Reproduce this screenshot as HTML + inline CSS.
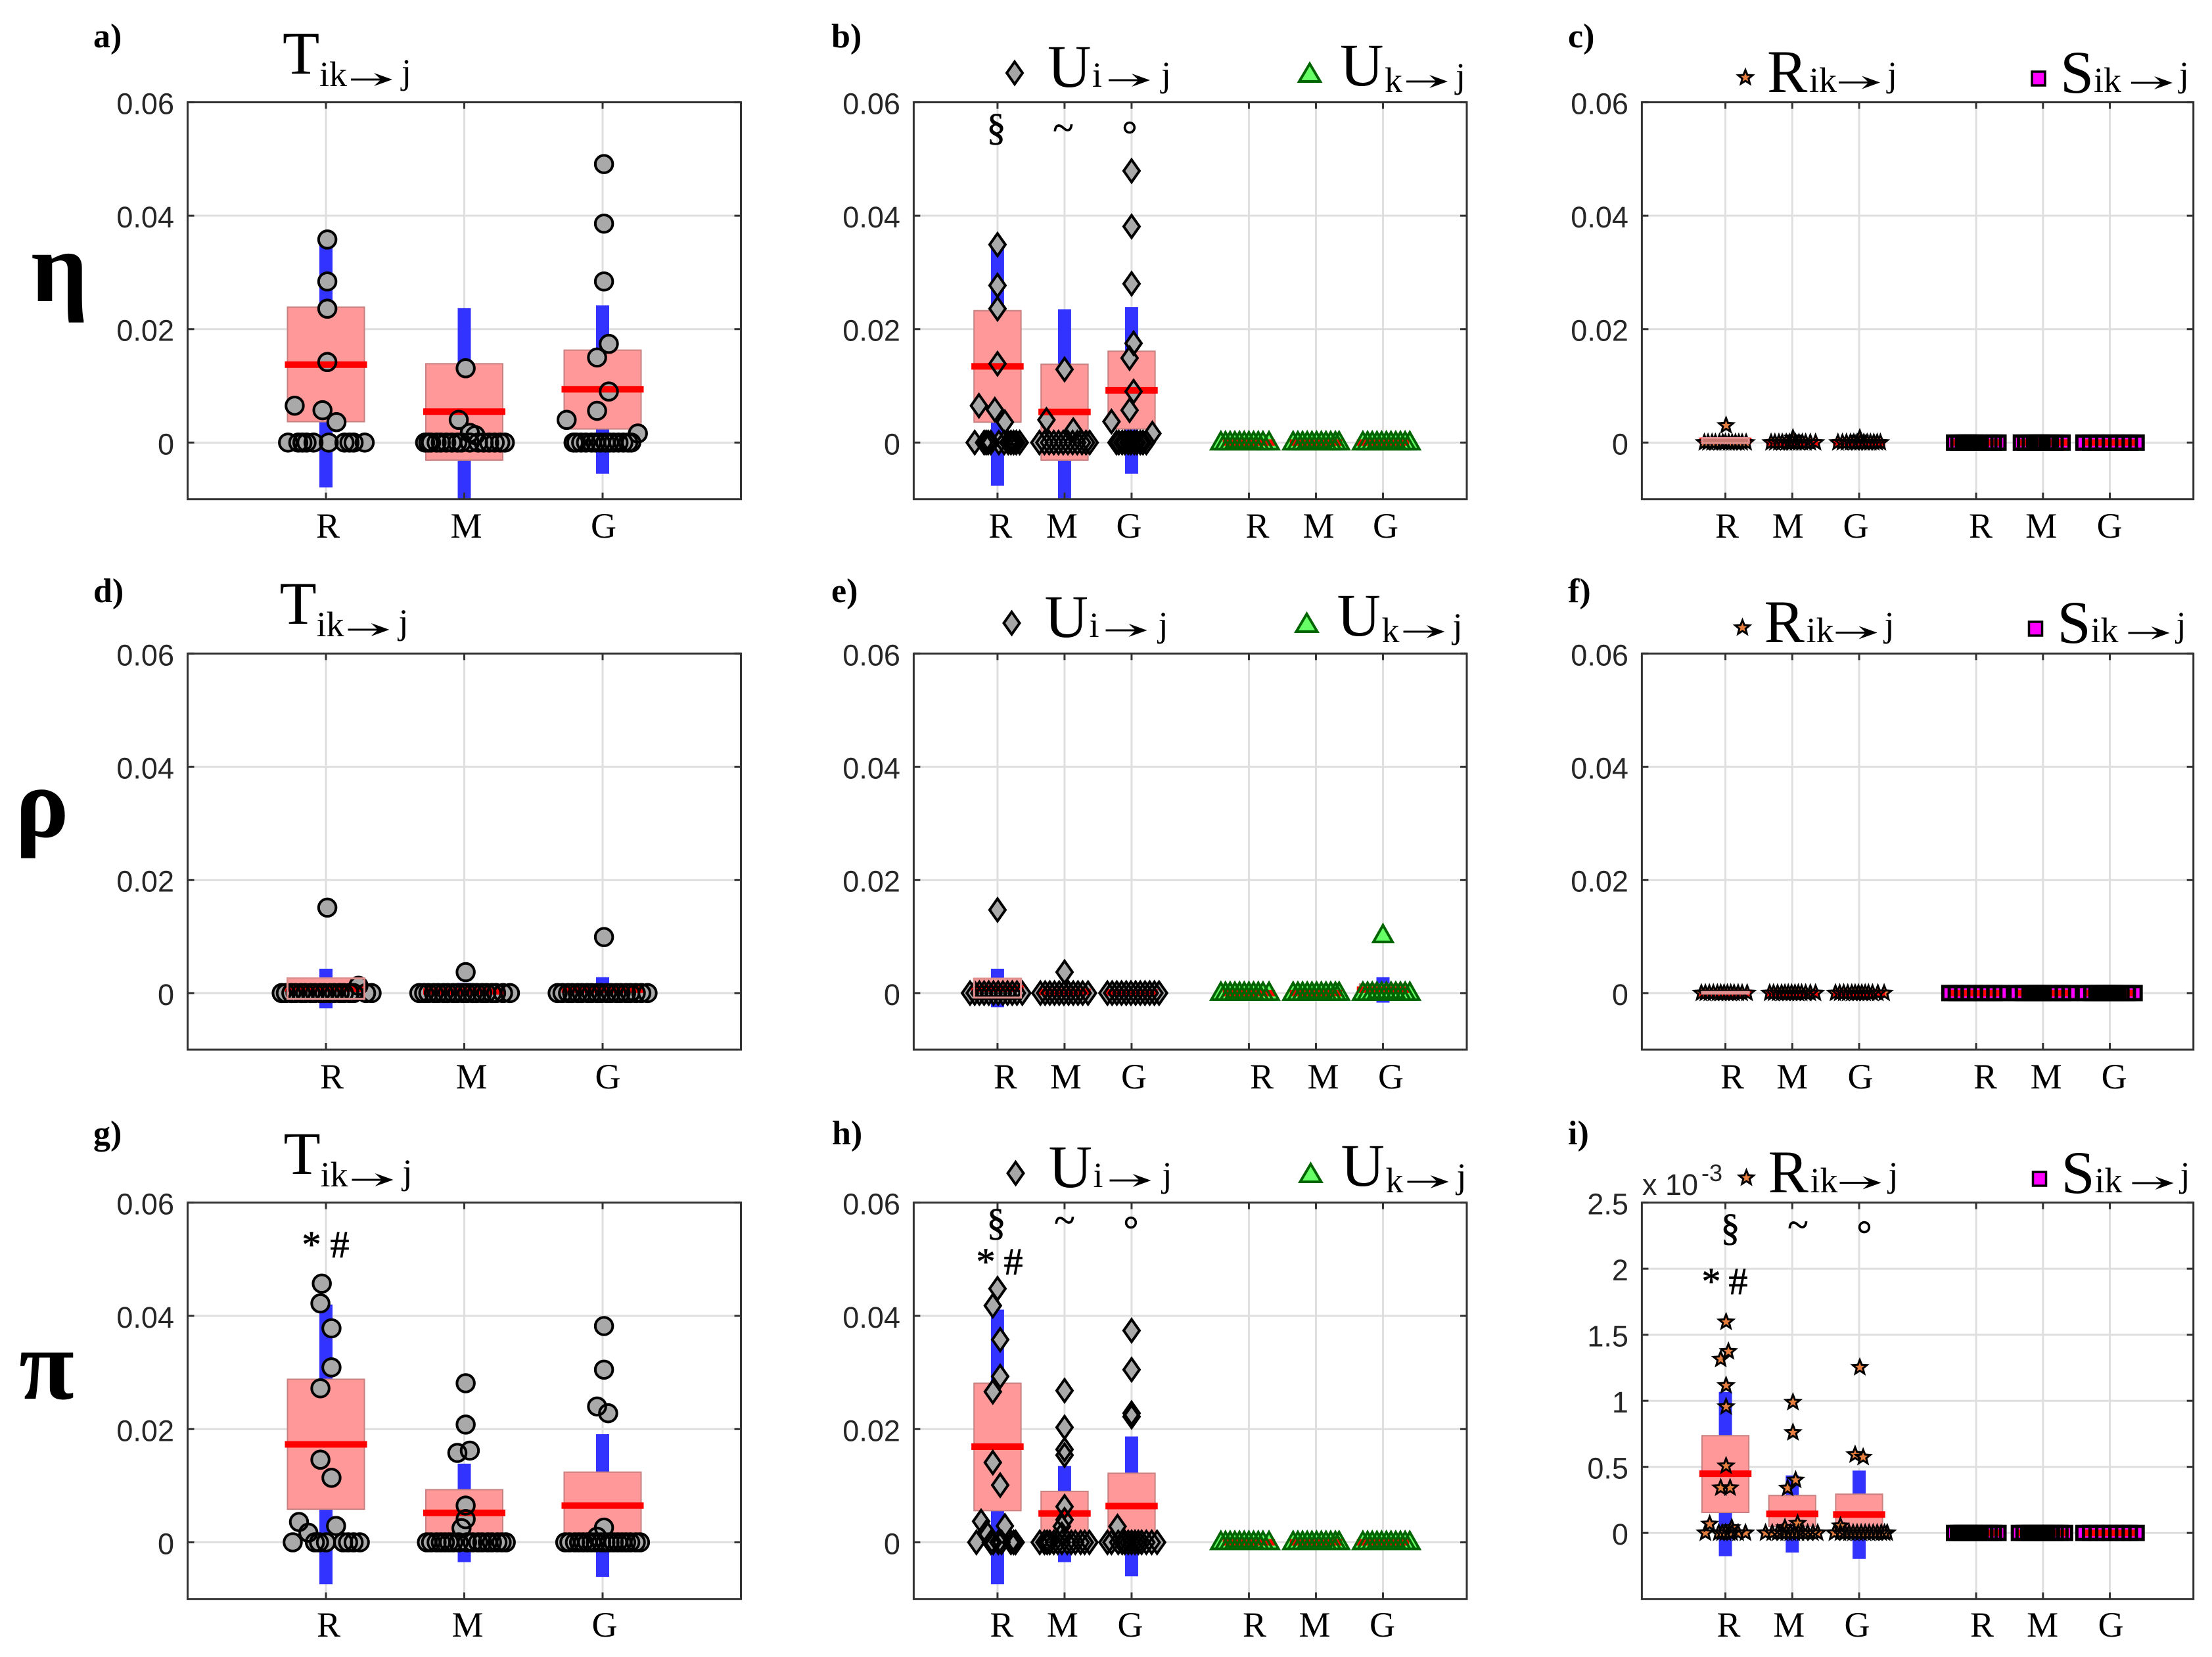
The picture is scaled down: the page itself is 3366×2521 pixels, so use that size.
<!DOCTYPE html>
<html lang="en">
<head>
<meta charset="utf-8">
<title>Information decomposition panels</title>
<style>
html,body{margin:0;padding:0;background:#fff;}
svg{display:block;}
.ser{font-family:"Liberation Serif",serif;fill:#000;}
.lab{font-family:"Liberation Serif",serif;font-weight:bold;font-size:52px;fill:#000;}
.big{font-size:92px;}
.sub{font-size:54px;}
.ann{font-size:58px;text-anchor:middle;stroke:#000;stroke-width:.8px;}
.greek{font-family:"Liberation Serif",serif;font-weight:bold;font-size:153px;fill:#000;}
.tick{font-family:"Liberation Sans",sans-serif;font-size:45px;fill:#262626;}
</style>
</head>
<body>
<svg id="fig" xmlns="http://www.w3.org/2000/svg" width="3366" height="2521" viewBox="0 0 3366 2521">
<rect width="3366" height="2521" fill="#fff"/>
<g id="plots"></g>

<text class="greek" x="47" y="458">η</text>
<text class="greek" x="23" y="1273">ρ</text>
<text class="greek" x="29" y="2128">π</text>

<text class="lab" x="142" y="72">a)</text>
<text class="lab" x="1265" y="72">b)</text>
<text class="lab" x="2386" y="72">c)</text>
<text class="lab" x="142" y="916">d)</text>
<text class="lab" x="1265" y="916">e)</text>
<text class="lab" x="2386" y="916">f)</text>
<text class="lab" x="142" y="1741">g)</text>
<text class="lab" x="1266" y="1741">h)</text>
<text class="lab" x="2386" y="1741">i)</text>

<!-- column 1 titles -->
<g>
<text class="ser big" x="430" y="112">T</text><text class="ser sub" x="486" y="131">ik</text><path d="M0 -1.5H44L35 -10L63 0L35 10L44 1.5H0Z" transform="translate(534,121)"/><text class="ser sub" x="611" y="127">j</text>
</g>
<g transform="translate(-4.5,837)">
<text class="ser big" x="430" y="112">T</text><text class="ser sub" x="486" y="131">ik</text><path d="M0 -1.5H44L35 -10L63 0L35 10L44 1.5H0Z" transform="translate(534,121)"/><text class="ser sub" x="611" y="127">j</text>
</g>
<g transform="translate(1.5,1674)">
<text class="ser big" x="430" y="112">T</text><text class="ser sub" x="486" y="131">ik</text><path d="M0 -1.5H44L35 -10L63 0L35 10L44 1.5H0Z" transform="translate(534,121)"/><text class="ser sub" x="611" y="127">j</text>
</g>

<!-- column 2 legends -->
<g>
<polygon points="1544,94 1556,111 1544,128 1532,111" fill="#a6a6a6" stroke="#000" stroke-width="4"/>
<text class="ser big" x="1594" y="132">U</text><text class="ser sub" x="1662" y="132">i</text><path d="M0 -1.5H44L35 -10L63 0L35 10L44 1.5H0Z" transform="translate(1687,122)"/><text class="ser sub" x="1767" y="131">j</text>
<polygon points="1993,97 2009,124 1977,124" fill="#66ff66" stroke="#006400" stroke-width="4"/>
<text class="ser big" x="2039" y="130">U</text><text class="ser sub" x="2107" y="140">k</text><path d="M0 -1.5H44L35 -10L63 0L35 10L44 1.5H0Z" transform="translate(2140,124)"/><text class="ser sub" x="2215" y="133">j</text>
</g>
<g transform="translate(-4.5,837)">
<polygon points="1544,94 1556,111 1544,128 1532,111" fill="#a6a6a6" stroke="#000" stroke-width="4"/>
<text class="ser big" x="1594" y="132">U</text><text class="ser sub" x="1662" y="132">i</text><path d="M0 -1.5H44L35 -10L63 0L35 10L44 1.5H0Z" transform="translate(1687,122)"/><text class="ser sub" x="1767" y="131">j</text>
<polygon points="1993,97 2009,124 1977,124" fill="#66ff66" stroke="#006400" stroke-width="4"/>
<text class="ser big" x="2039" y="130">U</text><text class="ser sub" x="2107" y="140">k</text><path d="M0 -1.5H44L35 -10L63 0L35 10L44 1.5H0Z" transform="translate(2140,124)"/><text class="ser sub" x="2215" y="133">j</text>
</g>
<g transform="translate(1.5,1674)">
<polygon points="1544,94 1556,111 1544,128 1532,111" fill="#a6a6a6" stroke="#000" stroke-width="4"/>
<text class="ser big" x="1594" y="132">U</text><text class="ser sub" x="1662" y="132">i</text><path d="M0 -1.5H44L35 -10L63 0L35 10L44 1.5H0Z" transform="translate(1687,122)"/><text class="ser sub" x="1767" y="131">j</text>
<polygon points="1993,97 2009,124 1977,124" fill="#66ff66" stroke="#006400" stroke-width="4"/>
<text class="ser big" x="2039" y="130">U</text><text class="ser sub" x="2107" y="140">k</text><path d="M0 -1.5H44L35 -10L63 0L35 10L44 1.5H0Z" transform="translate(2140,124)"/><text class="ser sub" x="2215" y="133">j</text>
</g>

<!-- column 3 legends -->
<g>
<polygon points="2656,106.5 2658.94,113.95 2666.94,114.45 2660.76,119.55 2662.76,127.3 2656,123 2649.24,127.3 2651.24,119.55 2645.06,114.45 2653.06,113.95" fill="#e57e3e" stroke="#000" stroke-width="3"/>
<text class="ser big" x="2689" y="140">R</text><text class="ser sub" x="2753" y="140">ik</text><path d="M0 -1.5H44L35 -10L63 0L35 10L44 1.5H0Z" transform="translate(2798,125.5)"/><text class="ser sub" x="2872" y="131">j</text>
<rect x="3092" y="109" width="20" height="21" fill="#ff00ff" stroke="#000" stroke-width="3.5"/>
<text class="ser big" x="3135" y="141">S</text><text class="ser sub" x="3186" y="140">ik</text><path d="M0 -1.5H44L35 -10L63 0L35 10L44 1.5H0Z" transform="translate(3243,126)"/><text class="ser sub" x="3316" y="131">j</text>
</g>
<g transform="translate(-4.5,837)">
<polygon points="2656,106.5 2658.94,113.95 2666.94,114.45 2660.76,119.55 2662.76,127.3 2656,123 2649.24,127.3 2651.24,119.55 2645.06,114.45 2653.06,113.95" fill="#e57e3e" stroke="#000" stroke-width="3"/>
<text class="ser big" x="2689" y="140">R</text><text class="ser sub" x="2753" y="140">ik</text><path d="M0 -1.5H44L35 -10L63 0L35 10L44 1.5H0Z" transform="translate(2798,125.5)"/><text class="ser sub" x="2872" y="131">j</text>
<rect x="3092" y="109" width="20" height="21" fill="#ff00ff" stroke="#000" stroke-width="3.5"/>
<text class="ser big" x="3135" y="141">S</text><text class="ser sub" x="3186" y="140">ik</text><path d="M0 -1.5H44L35 -10L63 0L35 10L44 1.5H0Z" transform="translate(3243,126)"/><text class="ser sub" x="3316" y="131">j</text>
</g>
<g transform="translate(1.5,1674)">
<polygon points="2656,106.5 2658.94,113.95 2666.94,114.45 2660.76,119.55 2662.76,127.3 2656,123 2649.24,127.3 2651.24,119.55 2645.06,114.45 2653.06,113.95" fill="#e57e3e" stroke="#000" stroke-width="3"/>
<text class="ser big" x="2689" y="140">R</text><text class="ser sub" x="2753" y="140">ik</text><path d="M0 -1.5H44L35 -10L63 0L35 10L44 1.5H0Z" transform="translate(2798,125.5)"/><text class="ser sub" x="2872" y="131">j</text>
<rect x="3092" y="109" width="20" height="21" fill="#ff00ff" stroke="#000" stroke-width="3.5"/>
<text class="ser big" x="3135" y="141">S</text><text class="ser sub" x="3186" y="140">ik</text><path d="M0 -1.5H44L35 -10L63 0L35 10L44 1.5H0Z" transform="translate(3243,126)"/><text class="ser sub" x="3316" y="131">j</text>
</g>

<!-- significance annotations -->
<g>
<text class="ser ann" x="1516" y="213">§</text><text class="ser ann" x="1618" y="214">~</text><text class="ser ann" x="1719" y="224">°</text>
</g>
<g>
<text class="ser ann" x="474" y="1913">*</text><text class="ser ann" x="517" y="1913">#</text>
</g>
<g>
<text class="ser ann" x="1516" y="1879">§</text><text class="ser ann" x="1620" y="1876">~</text><text class="ser ann" x="1721" y="1890">°</text>
<text class="ser ann" x="1500" y="1939">*</text><text class="ser ann" x="1542" y="1939">#</text>
</g>
<g>
<text class="ser ann" x="2633" y="1887">§</text><text class="ser ann" x="2736" y="1883">~</text><text class="ser ann" x="2837" y="1897">°</text>
<text class="ser ann" x="2604" y="1969">*</text><text class="ser ann" x="2645" y="1969">#</text>
</g>
<g>
<text class="tick" x="2499" y="1818">x 10</text><text class="tick" style="font-size:36px" x="2589" y="1797">-3</text>
</g>
</svg>

<script>
// ---------- axis tick and category data ----------
const xCategories = ['R','M','G'];
const yTickValues = [0,0.02,0.04,0.06];
const yTickLabels = ['0','0.02','0.04','0.06'];
const iTickValues = [0,0.5,1,1.5,2,2.5];
const iTickLabels = ['0','0.5','1','1.5','2','2.5'];

// ---------- shared zero rows and horizontal jitter (x-axis units) ----------
const ukRj = [-.418,-.35,-.28,-.21,-.14,-.07,0,.07,.14,.21,.3];
const ukMj = [-.34,-.27,-.2,-.13,-.06,.01,.08,.15,.22,.29,.346];
const ukGj = [-.3,-.23,-.16,-.09,-.02,.05,.12,.19,.26,.33,.4];
const zero9 = [0,0,0,0,0,0,0,0,0];
const zero11 = [0,0,0,0,0,0,0,0,0,0,0];
const zero12 = [0,0,0,0,0,0,0,0,0,0,0,0];
const zero13 = [0,0,0,0,0,0,0,0,0,0,0,0,0];
const zero14 = [0,0,0,0,0,0,0,0,0,0,0,0,0,0];
const zero15 = [0,0,0,0,0,0,0,0,0,0,0,0,0,0,0];
const zero16 = [0,0,0,0,0,0,0,0,0,0,0,0,0,0,0,0];

// ---------- panel a ----------
const aMean = [.01374,.00546,.0094];
const aBoxHi = [.02387,.0139,.0163];
const aBoxLo = [.00368,-.0031,.0024];
const aWhiskHi = [.035,.0237,.0242];
const aWhiskLo = [-.0079,-.0115,-.0055];
const aRv = [.0358,.0284,.0236,.0142,.0065,.0057,.0036,0,0,0,0,0,0,0,0,0,0];
const aRj = [.01,.01,.01,.01,-.226,-.025,.076,-.274,-.2,-.17,-.14,-.09,.02,.134,.17,.2,.28];
const aMv = [.0131,.004,.0017,.0013,0,0,0,0,0,0,0,0,0,0,0,0,0,0,0,0];
const aMj = [.01,-.04,.04,.08,-.283,-.26,-.24,-.2,-.17,-.13,-.09,-.05,-.02,.04,.1,.14,.18,.22,.26,.293];
const aGv = [.0491,.0386,.0284,.0174,.015,.009,.0056,.004,.0016,0,0,0,0,0,0,0,0,0,0,0,0,0,0];
const aGj = [.01,.01,.01,.045,-.04,.045,-.04,-.26,.255,-.21,-.19,-.155,-.12,-.08,-.05,-.015,.02,.05,.08,.115,.15,.185,.207];

// ---------- panel b ----------
const bMean = [.01344,.0054,.0092,0,0,0];
const bBoxHi = [.02325,.0138,.0161,.0002,.0002,.0002];
const bBoxLo = [.0036,-.0031,.0024,-.0002,-.0002,-.0002];
const bWhiskHi = [.0341,.0235,.0239,.0003,.0003,.0003];
const bWhiskLo = [-.0076,-.0115,-.0055,-.0003,-.0003,-.0003];
const bRv = [.0349,.0277,.0236,.0139,.0065,.0058,.0036,0,0,0,0,0,0,0,0,0,0,0,0];
const bRj = [0,0,0,0,-.277,-.04,.11,-.34,-.2,-.17,-.14,-.1,.02,.1,.16,.2,.24,.28,.33];
const bMv = [.0129,.004,.0022,0,0,0,0,0,0,0,0,0,0,0,0];
const bMj = [0,-.27,.13,-.375,-.3,-.23,-.16,-.09,-.02,.05,.12,.19,.26,.32,.375];
const bGv = [.0479,.0381,.028,.0175,.0149,.009,.0057,.0037,.0016,0,0,0,0,0,0,0,0,0,0,0];
const bGj = [0,0,0,.03,-.03,.03,-.03,-.3,.31,-.225,-.19,-.14,-.1,-.05,-.01,.04,.08,.13,.17,.22];
const bUkRv = zero11;
const bUkMv = zero11;
const bUkGv = zero11;

// ---------- panel c ----------
const cMean = [.0003,.00005,.00005,0,0,0];
const cBoxHi = [.0008,.0001,.0001,.0001,.0001,.0001];
const cBoxLo = [-.0001,-.0001,-.0001,-.0001,-.0001,-.0001];
const cWhiskHi = [.001,.0002,.0002,.0001,.0001,.0001];
const cWhiskLo = [-.0004,-.0002,-.0002,-.0001,-.0001,-.0001];
const cRv = [.003,0,0,0,0,0,0,0,0,0,0,0,0,0];
const cRj = [.01,-.315,-.26,-.2,-.15,-.09,-.04,0,.05,.1,.15,.2,.25,.31];
const cMv = [.0008,0,0,0,0,0,0,0,0,0,0,0,0,0];
const cMj = [.01,-.317,-.26,-.2,-.15,-.09,-.04,0,.05,.1,.15,.2,.27,.348];
const cGv = [.0008,0,0,0,0,0,0,0,0,0,0,0,0,0];
const cGj = [.01,-.317,-.25,-.19,-.13,-.08,-.03,.02,.07,.12,.17,.22,.27,.318];
const cSRv = zero13;
const cSRj = [-.329,-.265,-.197,-.167,-.138,-.108,-.079,-.049,-.01,.049,.197,.265,.334];
const cSMv = zero13;
const cSMj = [-.33,-.266,-.197,-.129,-.105,-.076,-.046,-.027,-.007,.052,.116,.189,.292];
const cSGv = zero9;
const cSGj = [-.395,-.296,-.197,-.097,.002,.101,.2,.3,.4];

// ---------- panel d ----------
const dMean = [.0008,.0003,.0006];
const dBoxHi = [.0026,.0011,.0016];
const dBoxLo = [-.001,-.0005,-.0004];
const dWhiskHi = [.0043,.0018,.0028];
const dWhiskLo = [-.0027,-.0012,-.0016];
const dRv = [.0151,.0013,0,0,0,0,0,0,0,0,0,0,0,0,0,0,0,0,0,0];
const dRj = [.01,.235,-.32,-.29,-.25,-.22,-.18,-.15,-.11,-.08,-.04,-.01,.03,.06,.1,.13,.17,.2,.29,.33];
const dMv = [.0037,0,0,0,0,0,0,0,0,0,0,0,0,0,0,0,0,0,0,0];
const dMj = [.01,-.325,-.29,-.26,-.22,-.19,-.15,-.12,-.08,-.05,-.01,.02,.06,.09,.13,.16,.2,.23,.28,.33];
const dGv = [.0099,0,0,0,0,0,0,0,0,0,0,0,0,0,0,0,0,0,0,0];
const dGj = [.01,-.325,-.29,-.25,-.22,-.18,-.15,-.11,-.08,-.04,-.01,.03,.06,.1,.13,.17,.2,.24,.28,.325];

// ---------- panel e ----------
const eMean = [.0008,.0002,.0001,0,0,.0006];
const eBoxHi = [.00255,.0008,.0004,.0002,.0002,.0016];
const eBoxLo = [-.0008,-.0004,-.0002,-.0002,-.0002,-.0004];
const eWhiskHi = [.0043,.0018,.0006,.0003,.0003,.0028];
const eWhiskLo = [-.0025,-.0014,-.0004,-.0003,-.0003,-.0017];
const eRv = [.0147,0,0,0,0,0,0,0,0,0,0,0,0];
const eRj = [0,-.41,-.34,-.27,-.2,-.13,-.06,.01,.08,.15,.22,.29,.37];
const eMv = [.0037,0,0,0,0,0,0,0,0,0,0,0];
const eMj = [0,-.36,-.29,-.22,-.15,-.08,-.01,.06,.13,.2,.27,.35];
const eGv = zero12;
const eGj = [-.36,-.29,-.22,-.15,-.08,-.01,.06,.13,.2,.27,.34,.41];
const eUkRv = zero11;
const eUkMv = zero11;
const eUkGv = [.0102,0,0,0,0,0,0,0,0,0,0,0];
const eUkGj = [0,-.3,-.23,-.16,-.09,-.02,.05,.12,.19,.26,.33,.4];

// ---------- panel f ----------
const fMean = [.00005,.00002,.00002,0,0,0];
const fBoxHi = [.0002,.0001,.0001,.0001,.0001,.0001];
const fBoxLo = [-.0001,-.0001,-.0001,-.0001,-.0001,-.0001];
const fWhiskHi = [.0003,.0001,.0001,.0001,.0001,.0001];
const fWhiskLo = [-.0002,-.0001,-.0001,-.0001,-.0001,-.0001];
const fRv = zero13;
const fRj = [-.36,-.3,-.24,-.18,-.12,-.07,-.02,.03,.08,.13,.19,.25,.325];
const fMv = zero13;
const fMj = [-.338,-.28,-.22,-.16,-.11,-.06,-.01,.04,.09,.14,.2,.27,.348];
const fGv = zero13;
const fGj = [-.354,-.29,-.23,-.17,-.11,-.06,-.01,.04,.09,.14,.2,.28,.374];
const fSRv = zero9;
const fSRj = [-.4,-.304,-.208,-.112,-.016,.08,.176,.272,.37];
const fSMv = zero12;
const fSMj = [-.395,-.3,-.2,-.15,-.11,-.07,-.03,.01,.1,.2,.3,.4];
const fSGv = zero14;
const fSGj = [-.375,-.275,-.2,-.16,-.12,-.08,-.04,0,.04,.08,.12,.17,.27,.37];

// ---------- panel g ----------
const gMean = [.0173,.0052,.0065];
const gBoxHi = [.0288,.0093,.0124];
const gBoxLo = [.00585,.001,.0008];
const gWhiskHi = [.042,.0139,.0191];
const gWhiskLo = [-.0074,-.0035,-.0061];
const gRv = [.0457,.0422,.0378,.0309,.0272,.0146,.0114,.0036,.0017,.0029,0,0,0,0,0,0,0,0];
const gRj = [-.03,-.04,.04,.04,-.04,-.04,.04,-.195,-.127,.073,-.24,-.08,-.05,0,.124,.16,.2,.245];
const gMv = [.0281,.0208,.0158,.0162,.0065,.0041,.0025,0,0,0,0,0,0,0,0,0,0,0,0,0,0,0,0,0];
const gMj = [.01,.01,-.05,.04,.01,.01,-.02,-.27,-.24,-.2,-.17,-.14,-.11,-.08,-.04,.02,.06,.1,.13,.17,.2,.24,.27,.3];
const gGv = [.0382,.0305,.024,.0228,.0026,.001,0,0,0,0,0,0,0,0,0,0,0,0,0,0,0,0,0,0];
const gGj = [.01,.01,-.04,.04,.01,-.04,-.27,-.24,-.2,-.17,-.14,-.11,-.08,-.05,-.01,.02,.05,.08,.11,.14,.17,.2,.24,.27];

// ---------- panel h ----------
const hMean = [.0169,.0051,.0064,0,0,0];
const hBoxHi = [.0281,.009,.0122,.0002,.0002,.0002];
const hBoxLo = [.0056,.001,.0008,-.0002,-.0002,-.0002];
const hWhiskHi = [.0411,.0135,.0187,.0003,.0003,.0003];
const hWhiskLo = [-.0074,-.0035,-.006,-.0003,-.0003,-.0003];
const hRv = [.0448,.0418,.0358,.0293,.0266,.0141,.0101,.0037,.0018,.0029,0,0,0,0,0,0,0,0];
const hRj = [0,-.07,.04,.04,-.07,-.07,.04,-.245,-.167,.11,-.315,-.1,-.065,.013,.06,.2,.24,.27];
const hMv = [.0268,.0203,.0164,.0154,.0063,.004,.0028,.0014,0,0,0,0,0,0,0,0,0,0,0,0,0];
const hMj = [0,0,0,0,0,0,-.04,-.04,-.37,-.3,-.26,-.22,-.16,-.1,-.04,.04,.1,.16,.24,.3,.37];
const hGv = [.0374,.0305,.0228,.0222,.0028,0,0,0,0,0,0,0,0,0,0,0,0,0];
const hGj = [0,0,0,0,-.21,-.36,-.3,-.2,-.14,-.1,-.05,0,.05,.1,.15,.22,.3,.38];
const hUkRv = zero11;
const hUkMv = zero11;
const hUkGv = zero11;

// ---------- panel i (values in units of 10^-3) ----------
const iMean = [.448,.144,.139,0,0,0];
const iBoxHi = [.736,.283,.293,.002,.002,.002];
const iBoxLo = [.155,.05,.02,-.002,-.002,-.002];
const iWhiskHi = [1.067,.435,.472,.003,.003,.003];
const iWhiskLo = [-.176,-.149,-.197,-.003,-.003,-.003];
const iRv = [1.597,1.373,1.315,1.115,.955,.507,.341,.341,.067,.04,0,0,0,0,0,0,0,0];
const iRj = [.01,.045,-.07,.01,.01,.01,-.07,.07,-.235,.095,-.3,-.1,-.05,0,.06,.1,.19,.3];
const iMv = [.989,.76,.4,.339,.072,.04,0,0,0,0,0,0,0,0,0,0,0,0];
const iMj = [.01,.01,.05,-.07,.08,-.11,-.4,-.3,-.22,-.15,-.09,-.03,.03,.09,.16,.23,.31,.38];
const iGv = [1.253,.592,.573,.053,0,0,0,0,0,0,0,0,0,0,0,0,0,0];
const iGj = [.01,-.06,.06,-.28,-.37,-.28,-.21,-.15,-.09,-.03,.03,.09,.15,.21,.27,.33,.38,.42];
const iSRv = zero15;
const iSRj = [-.33,-.27,-.23,-.2,-.17,-.14,-.11,-.08,-.05,-.01,.05,.13,.2,.265,.334];
const iSMv = zero16;
const iSMj = [-.36,-.29,-.22,-.18,-.15,-.12,-.09,-.06,-.03,0,.03,.06,.12,.19,.26,.33];
const iSGv = zero9;
const iSGj = [-.395,-.296,-.197,-.097,.002,.101,.2,.3,.4];

// ---------- layout ----------
const SVGNS = 'http://www.w3.org/2000/svg';
const colLayouts = [
  {l:285.5, r:1127.5, xmax:4, ticks:[1,2,3], box:.278, red:.297},
  {l:1390.4, r:2232, xmax:8.25, ticks:[1.25,2.25,3.25,5,6,7], box:.35, red:.39},
  {l:2498.4, r:3337.7, xmax:8.25, ticks:[1.25,2.25,3.25,5,6,7], box:.35, red:.39}
];
const rowLayouts = [
  {t:155.6, b:759.6, labelY:818},
  {t:994.3, b:1597, labelY:1656},
  {t:1829.7, b:2432.7, labelY:2490}
];

const panels = [
 {id:'a',col:0,row:0,labelDx:[3,3,1.5],mean:aMean,boxHi:aBoxHi,boxLo:aBoxLo,whiskHi:aWhiskHi,whiskLo:aWhiskLo,
  groups:[[aRv,aRj,'circle'],[aMv,aMj,'circle'],[aGv,aGj,'circle']]},
 {id:'b',col:1,row:0,labelDx:[4.5,-4,-4,13,4,4],mean:bMean,boxHi:bBoxHi,boxLo:bBoxLo,whiskHi:bWhiskHi,whiskLo:bWhiskLo,
  groups:[[bRv,bRj,'diamond'],[bMv,bMj,'diamond'],[bGv,bGj,'diamond'],[bUkRv,ukRj,'triangle'],[bUkMv,ukMj,'triangle'],[bUkGv,ukGj,'triangle']]},
 {id:'c',col:2,row:0,labelDx:[2.5,-6.5,-5,7,-2.7,-.4],overlay:[0],overlayFill:'#c87a70',mean:cMean,boxHi:cBoxHi,boxLo:cBoxLo,whiskHi:cWhiskHi,whiskLo:cWhiskLo,
  groups:[[cRv,cRj,'star'],[cMv,cMj,'star'],[cGv,cGj,'star'],[cSRv,cSRj,'square'],[cSMv,cSMj,'square'],[cSGv,cSGj,'square']]},
 {id:'d',col:0,row:1,labelDx:[9,11,8],overlay:[0],mean:dMean,boxHi:dBoxHi,boxLo:dBoxLo,whiskHi:dWhiskHi,whiskLo:dWhiskLo,
  groups:[[dRv,dRj,'circle'],[dMv,dMj,'circle'],[dGv,dGj,'circle']]},
 {id:'e',col:1,row:1,labelDx:[12,2,3.5,19.5,11,12],overlay:[0],mean:eMean,boxHi:eBoxHi,boxLo:eBoxLo,whiskHi:eWhiskHi,whiskLo:eWhiskLo,
  groups:[[eRv,eRj,'diamond'],[eMv,eMj,'diamond'],[eGv,eGj,'diamond'],[eUkRv,ukRj,'triangle'],[eUkMv,ukMj,'triangle'],[eUkGv,eUkGj,'triangle']]},
 {id:'f',col:2,row:1,labelDx:[10.5,0,2,14,4.8,6.6],overlay:[0],overlayFill:'#c87a70',mean:fMean,boxHi:fBoxHi,boxLo:fBoxLo,whiskHi:fWhiskHi,whiskLo:fWhiskLo,
  groups:[[fRv,fRj,'star'],[fMv,fMj,'star'],[fGv,fGj,'star'],[fSRv,fSRj,'square'],[fSMv,fSMj,'square'],[fSGv,fSGj,'square']]},
 {id:'g',col:0,row:2,labelDx:[4,5,3],mean:gMean,boxHi:gBoxHi,boxLo:gBoxLo,whiskHi:gWhiskHi,whiskLo:gWhiskLo,
  groups:[[gRv,gRj,'circle'],[gMv,gMj,'circle'],[gGv,gGj,'circle']]},
 {id:'h',col:1,row:2,labelDx:[6.5,-3,-2,8.5,-2,-1],mean:hMean,boxHi:hBoxHi,boxLo:hBoxLo,whiskHi:hWhiskHi,whiskLo:hWhiskLo,
  groups:[[hRv,hRj,'diamond'],[hMv,hMj,'diamond'],[hGv,hGj,'diamond'],[hUkRv,ukRj,'triangle'],[hUkMv,ukMj,'triangle'],[hUkGv,ukGj,'triangle']]},
 {id:'i',col:2,row:2,labelDx:[5,-5,-3,9,-.7,1.6],ymin:-.5,ymax:2.5,yTicks:iTickValues,yLabels:iTickLabels,mean:iMean,boxHi:iBoxHi,boxLo:iBoxLo,whiskHi:iWhiskHi,whiskLo:iWhiskLo,
  groups:[[iRv,iRj,'star'],[iMv,iMj,'star'],[iGv,iGj,'star'],[iSRv,iSRj,'square'],[iSMv,iSMj,'square'],[iSGv,iSGj,'square']]}
];

const markerStyle = {
  circle:{fill:'#a9a9a9',stroke:'#000',sw:4},
  diamond:{fill:'#a9a9a9',stroke:'#000',sw:4},
  triangle:{fill:'#66ff66',stroke:'#006400',sw:4},
  star:{fill:'#e57e3e',stroke:'#000',sw:3},
  square:{fill:'#ff00ff',stroke:'#000',sw:5}
};

function make(tag, attrs, parent){
  const node = document.createElementNS(SVGNS, tag);
  for (const k in attrs) node.setAttribute(k, attrs[k]);
  parent.appendChild(node);
  return node;
}

function markerPath(kind, x, y){
  if (kind === 'circle'){
    const r = 13.25;
    return 'M'+(x-r)+' '+y+'a'+r+' '+r+' 0 1 0 '+(2*r)+' 0a'+r+' '+r+' 0 1 0 '+(-2*r)+' 0Z';
  }
  if (kind === 'diamond') return 'M'+x+' '+(y-17)+'L'+(x+12)+' '+y+'L'+x+' '+(y+17)+'L'+(x-12)+' '+y+'Z';
  if (kind === 'triangle') return 'M'+x+' '+(y-15.5)+'L'+(x+14.5)+' '+(y+10)+'L'+(x-14.5)+' '+(y+10)+'Z';
  if (kind === 'square') return 'M'+(x-10)+' '+(y-10)+'H'+(x+10)+'V'+(y+10)+'H'+(x-10)+'Z';
  let d = '';
  for (let k = 0; k < 10; k++){
    const rad = k % 2 ? 5 : 11.5;
    const a = -Math.PI/2 + k*Math.PI/5;
    d += (k ? 'L' : 'M') + (x + rad*Math.cos(a)).toFixed(2) + ' ' + (y + rad*Math.sin(a)).toFixed(2);
  }
  return d + 'Z';
}

const root = document.getElementById('plots');

panels.forEach(function(p){
  const c = colLayouts[p.col];
  const rw = rowLayouts[p.row];
  const ymin = p.ymin !== undefined ? p.ymin : -0.01;
  const ymax = p.ymax !== undefined ? p.ymax : 0.06;
  const ticksY = p.yTicks || yTickValues;
  const labelsY = p.yLabels || yTickLabels;
  const xs = function(v){ return c.l + (c.r - c.l) * v / c.xmax; };
  const ys = function(v){ return rw.b - (rw.b - rw.t) * (v - ymin) / (ymax - ymin); };

  const g = make('g', {}, root);
  
  

  const clip = make('clipPath', {id:'clip-' + p.id}, g);
  make('rect', {x:c.l, y:rw.t, width:c.r - c.l, height:rw.b - rw.t}, clip);

  // grid
  ticksY.forEach(function(v){
    if (v === ymax) return;
    const line = make('line', {x1:c.l, x2:c.r, y1:ys(v), y2:ys(v), stroke:'#dfdfdf', 'stroke-width':3}, g);
    
    
  });
  c.ticks.forEach(function(v){
    const line = make('line', {x1:xs(v), x2:xs(v), y1:rw.t, y2:rw.b, stroke:'#dfdfdf', 'stroke-width':3}, g);
    
    
  });

  // whiskers and boxes
  p.groups.forEach(function(_, i){
    const x = xs(c.ticks[i]);
    const w = make('line', {x1:x, x2:x, y1:ys(p.whiskHi[i]), y2:ys(p.whiskLo[i]), stroke:'#3333ff', 'stroke-width':20, 'clip-path':'url(#clip-' + p.id + ')'}, g);
    
    
  });
  p.groups.forEach(function(_, i){
    const x = xs(c.ticks[i]);
    const hw = c.box * (c.r - c.l) / c.xmax;
    const b = make('rect', {x:x - hw, width:2*hw, y:ys(p.boxHi[i]), height:ys(p.boxLo[i]) - ys(p.boxHi[i]), fill:'#ff9999', stroke:'#c98080', 'stroke-width':2}, g);
    
    
  });

  // marker fills
  p.groups.forEach(function(gr, i){
    const vals = gr[0], jit = gr[1], kind = gr[2];
    vals.forEach(function(v, k){
      const m = make('path', {d:markerPath(kind, xs(c.ticks[i] + jit[k]), ys(v)), fill:markerStyle[kind].fill}, g);
      
      
    });
  });

  // mean lines
  p.groups.forEach(function(_, i){
    const x = xs(c.ticks[i]);
    const hw = c.red * (c.r - c.l) / c.xmax;
    const r = make('line', {x1:x - hw, x2:x + hw, y1:ys(p.mean[i]), y2:ys(p.mean[i]), stroke:'#ff0000', 'stroke-width':10}, g);
    
    
  });

  // marker edges
  p.groups.forEach(function(gr, i){
    const vals = gr[0], jit = gr[1], kind = gr[2];
    vals.forEach(function(v, k){
      const m = make('path', {d:markerPath(kind, xs(c.ticks[i] + jit[k]), ys(v)), fill:'none', stroke:markerStyle[kind].stroke, 'stroke-width':markerStyle[kind].sw}, g);
      
      
    });
  });

  // small boxes that remain visible over the markers
  (p.overlay || []).forEach(function(i){
    const x = xs(c.ticks[i]);
    const hw = c.box * (c.r - c.l) / c.xmax;
    const b = make('rect', {x:x - hw, width:2*hw, y:ys(p.boxHi[i]), height:ys(p.boxLo[i]) - ys(p.boxHi[i]), fill:p.overlayFill || 'none', stroke:'#e08f8f', 'stroke-width':3}, g);
    
    
  });

  // frame
  const frame = make('rect', {x:c.l, y:rw.t, width:c.r - c.l, height:rw.b - rw.t, fill:'none', stroke:'#333', 'stroke-width':3}, g);
  
  

  // y ticks
  ticksY.forEach(function(v, i){
    const y = ys(v);
    const t1 = make('line', {x1:c.l, x2:c.l + 10, y1:y, y2:y, stroke:'#333', 'stroke-width':3}, g);
    
    
    const t2 = make('line', {x1:c.r - 10, x2:c.r, y1:y, y2:y, stroke:'#333', 'stroke-width':3}, g);
    
    
    const lab = make('text', {x:c.l - 20.5, y:y + 18, 'text-anchor':'end', class:'tick'}, g);
    lab.textContent = labelsY[i];
    
    
  });

  // x ticks and labels
  c.ticks.forEach(function(v, i){
    const x = xs(v);
    const t1 = make('line', {x1:x, x2:x, y1:rw.b - 10, y2:rw.b, stroke:'#333', 'stroke-width':3}, g);
    
    
    const t2 = make('line', {x1:x, x2:x, y1:rw.t, y2:rw.t + 10, stroke:'#333', 'stroke-width':3}, g);
    
    
    const lab = make('text', {x:x + p.labelDx[i], y:rw.labelY, 'text-anchor':'middle', class:'ser', 'font-size':54}, g);
    lab.textContent = xCategories[i % 3];
    
    
  });
});
</script>
</body>
</html>
